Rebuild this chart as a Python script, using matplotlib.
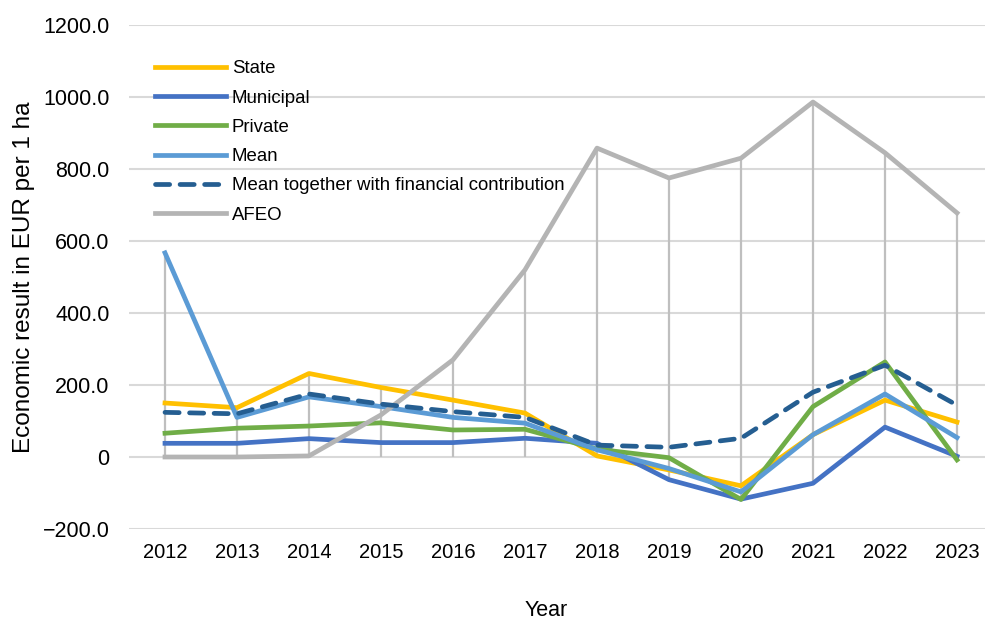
import matplotlib.pyplot as plt
import numpy as np

# Data
years = ['2012', '2013', '2014', '2015', '2016', '2017',
         '2018', '2019', '2020', '2021', '2022', '2023']
state = [150, 137, 232, 193, 158, 122, 3, -36, -80, 62, 158, 97]
municipal = [38, 38, 51, 40, 40, 52, 38, -63, -117, -73, 83, 2]
private = [66, 80, 86, 95, 75, 77, 22, -2, -118, 140, 264, -8]
mean = [567, 110, 167, 140, 110, 94, 20, -32, -97, 62, 175, 54]
mean_contrib = [124, 120, 175, 147, 126, 110, 33, 27, 52, 180, 255, 144]
afeo = [0, 0, 3, 117, 270, 520, 858, 775, 830, 986, 845, 678]
# lower ends of the vertical grey high-low lines
hilo_low = [0, 0, 0, 0, 0, 0, 0, -63, -118, -73, 83, -8]

plt.rcParams['font.family'] = ['Liberation Sans', 'DejaVu Sans']

fig = plt.figure(figsize=(9.85, 6.24), dpi=100)
ax = fig.add_axes([129 / 985, 1 - 529 / 624, 864 / 985, 504 / 624])

x = np.arange(len(years))

# High-low lines from the top of all series to the low value
all_series = np.array([state, municipal, private, mean, mean_contrib, afeo])
hi = all_series.max(axis=0)
ax.vlines(x, hilo_low, hi, color='#BFBFBF', linewidth=1.6, zorder=2)

lw = 3.4
ax.plot(x, state, color='#FFC000', lw=lw, label='State', zorder=3)
ax.plot(x, municipal, color='#4472C4', lw=lw, label='Municipal', zorder=3)
ax.plot(x, private, color='#70AD47', lw=lw, label='Private', zorder=3)
ax.plot(x, mean, color='#5B9BD5', lw=lw, label='Mean', zorder=3)
ax.plot(x, mean_contrib, color='#255E91', lw=lw, dashes=(3, 2.2),
        dash_capstyle='round', label='Mean together with financial contribution',
        zorder=4)
ax.plot(x, afeo, color='#B4B4B4', lw=lw, label='AFEO', zorder=3)

ax.set_xlim(-0.5, len(years) - 0.5)
ax.set_ylim(-200, 1200)
yt = np.arange(-200, 1201, 200)
ax.set_yticks(yt)
ax.set_yticklabels(['0' if v == 0 else f'{v:.1f}'.replace('-', '\u2212') for v in yt])
ax.set_xticks(x)
ax.set_xticklabels(years)

ax.grid(axis='y', color='#D9D9D9', linewidth=1.5, zorder=0)
ax.set_axisbelow(True)
for s in ax.spines.values():
    s.set_visible(False)
ax.tick_params(axis='y', length=0, labelsize=15.5, colors='#000000', pad=14)
ax.tick_params(axis='x', length=0, labelsize=14.5, colors='#000000', pad=10)

ax.set_ylabel('Economic result in EUR per 1 ha', fontsize=17.5, va='center')
ax.yaxis.set_label_coords(-(129 - 24) / 864, 0.5)
ax.set_xlabel('Year', fontsize=15.5, va='center')
ax.xaxis.set_label_coords((546 - 129) / 864, -(610 - 529) / 504)

leg = ax.legend(loc='upper left', bbox_to_anchor=(0.022, 0.945), frameon=False,
                fontsize=13.4, handlelength=3.8, handletextpad=0.3,
                labelspacing=0.66, borderaxespad=0)

fig.savefig('out.png', dpi=100)
